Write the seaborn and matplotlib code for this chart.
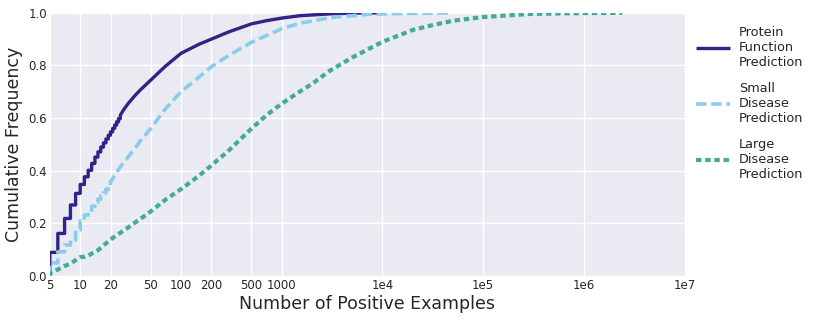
import numpy as np
import pandas as pd
import matplotlib
matplotlib.use("Agg")
import matplotlib.pyplot as plt
import seaborn as sns

# ---------------- data ----------------
protein_x = [5, 6, 7, 8, 9, 10, 11, 12, 13, 14, 15, 16, 17, 18, 19, 20,
             21, 22, 23, 24, 25, 27, 30, 35, 40, 50, 70, 100, 150, 200, 300, 500, 700,
             1000, 1500, 3000, 5000, 10000]
protein_y = [0.09, 0.162, 0.219, 0.27, 0.314, 0.348, 0.377, 0.402, 0.428, 0.452, 0.472, 0.49,
             0.506, 0.521, 0.535, 0.548,
             0.561, 0.574, 0.586, 0.598, 0.611, 0.632, 0.656, 0.686, 0.709, 0.744, 0.797,
             0.846, 0.880, 0.90, 0.928, 0.958, 0.97, 0.98, 0.989, 0.996, 0.999, 1.0]

small_x = [5, 6, 7, 8, 9, 10, 11, 12, 13, 14, 15, 16, 17, 18, 19, 20,
           25, 30, 40, 50, 70, 100, 150, 200, 300, 500, 700, 1000, 1500, 3000, 7000, 10000, 48000]
small_y = [0.05, 0.092, 0.118, 0.137, 0.175, 0.21, 0.232, 0.25, 0.265, 0.28, 0.292, 0.305,
           0.316, 0.33, 0.345, 0.358,
           0.415, 0.453, 0.516, 0.56, 0.635, 0.70, 0.755, 0.795, 0.839, 0.888, 0.913, 0.94,
           0.96, 0.982, 0.994, 0.996, 1.0]

large_x = [5, 6, 7, 8, 9, 10, 11, 12, 15, 20, 30, 50, 70, 100, 150, 200, 300, 500, 700,
           1000, 1500, 2000, 3000, 5000, 10000, 20000, 32000, 50000, 100000, 300000,
           1000000, 2400000]
large_y = [0.01, 0.025, 0.038, 0.048, 0.06, 0.072, 0.073, 0.078, 0.098, 0.139, 0.185, 0.245,
           0.29, 0.33, 0.38, 0.42, 0.478, 0.56, 0.61, 0.655, 0.70, 0.73, 0.78, 0.83, 0.89,
           0.935, 0.954, 0.97, 0.984, 0.996, 0.999, 1.0]

series_names = ["Protein\nFunction\nPrediction", "Small\nDisease\nPrediction",
                "Large\nDisease\nPrediction"]
tick_values = [5, 10, 20, 50, 100, 200, 500, 1000, 1e4, 1e5, 1e6, 1e7]
tick_labels = ["5", "10", "20", "50", "100", "200", "500", "1000", "1e4", "1e5", "1e6", "1e7"]

# ---------------- styling ----------------
sns.set_style("darkgrid", {"axes.facecolor": "#EAEAF2", "grid.color": "white"})
plt.rcParams["font.family"] = ["DejaVu Sans"]

colors = ["#332288", "#88CCEE", "#44AA99"]
widths = [2.4, 2.6, 3.0]
dash_styles = [None, (2.9, 1.3), (1.3, 0.9)]
step_series = [True, True, False]  # ECDF steps drawn for consecutive integer counts


def ecdf_frame(xs, ys, steps):
    """Expand the read ECDF values into a polyline (steps between consecutive integers)."""
    px, py = [xs[0]], [0.0]
    prev_x, prev = None, 0.0
    for x, y in zip(xs, ys):
        if steps and (prev_x is None or x - prev_x == 1):
            px.append(x)
            py.append(prev)
        px.append(x)
        py.append(y)
        prev_x, prev = x, y
    return pd.DataFrame({"x": px, "y": py})


fig = plt.figure(figsize=(8.31, 3.21), dpi=100)
ax = fig.add_axes([0.060, 0.140, 0.764, 0.820])

for (xs, ys), name, c, w, d, st in zip(
        [(protein_x, protein_y), (small_x, small_y), (large_x, large_y)],
        series_names, colors, widths, dash_styles, step_series):
    df = ecdf_frame(xs, ys, st)
    sns.lineplot(data=df, x="x", y="y", sort=False, estimator=None, ax=ax,
                 color=c, linewidth=w, label=name)
    ln = ax.get_lines()[-1]
    if d is not None:
        ln.set_dashes(d)
    ln.set_solid_capstyle("butt")
    ln.set_dash_capstyle("butt")

ax.set_xscale("log")
ax.set_xlim(5, 1e7)
ax.set_ylim(0, 1.0)
ax.set_xticks(tick_values)
ax.set_xticklabels(tick_labels)
ax.xaxis.set_minor_locator(matplotlib.ticker.NullLocator())
ax.set_yticks([0.0, 0.2, 0.4, 0.6, 0.8, 1.0])
ax.set_yticklabels(["0.0", "0.2", "0.4", "0.6", "0.8", "1.0"])
ax.tick_params(axis="both", labelsize=8.5, colors="#262626", pad=2, length=0)
ax.set_xlabel("Number of Positive Examples", fontsize=12.5, color="#262626", labelpad=2)
ax.set_ylabel("Cumulative Frequency", fontsize=12.5, color="#262626", labelpad=4)
ax.grid(True, color="white", linewidth=1.0)
for s in ax.spines.values():
    s.set_visible(False)

leg = ax.legend(loc="upper left", bbox_to_anchor=(1.01, 0.97), frameon=False,
                fontsize=9.3, handlelength=2.6, handletextpad=0.7, labelspacing=1.0,
                borderaxespad=0.0)
for t in leg.get_texts():
    t.set_color("#262626")

fig.savefig("out.png", dpi=100)
